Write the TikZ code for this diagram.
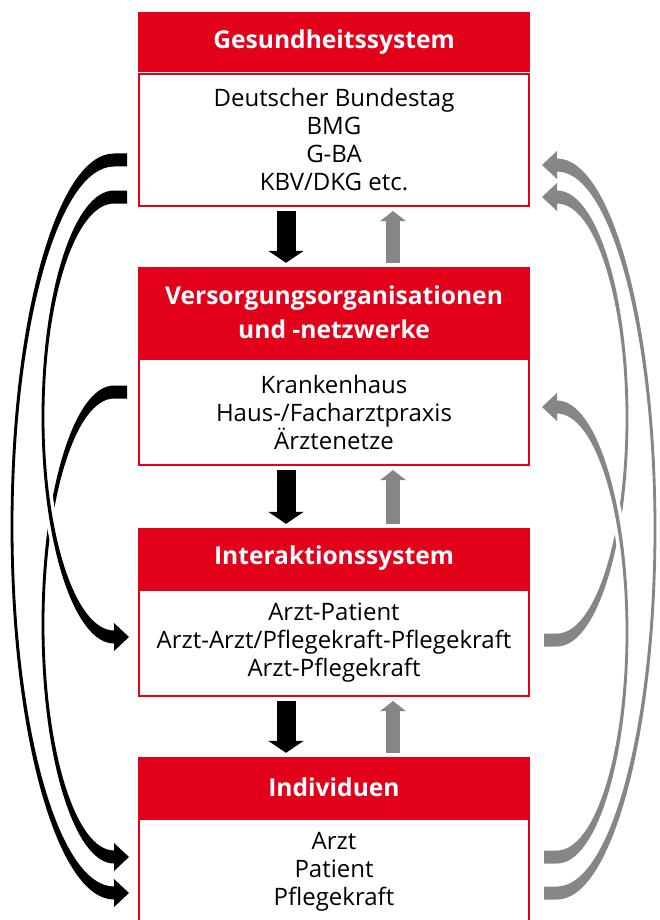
\documentclass[tikz,border=0pt]{standalone}
\usepackage{fontspec}
\setmainfont{Open Sans}
\usepackage{tikz}
\usetikzlibrary{arrows.meta}

\definecolor{boxred}{RGB}{226,0,26}
\definecolor{flowgray}{RGB}{134,134,134}

% bent arrow, thick at both ends, thin in the middle
% #1 turn, #2 paint, #3 tail, #4 half height, #5 bulge
\newcommand{\bendarrow}[5]{%
  \begin{scope}[shift={(#3)},#1]
    \path[#2] (0,-6.5) -- (-13,-6.5)
      arc[start angle=90,end angle=270,x radius={(#5+1.4)*1pt},y radius={(#4+6.5)*1pt}]
      -- (-13,{2*#4+14}) -- (2,{2*#4}) -- (-13,{2*#4-14}) -- (-13,{2*#4-6.5})
      arc[start angle=270,end angle=90,x radius={(#5-1.4)*1pt},y radius={(#4-6.5)*1pt}]
      -- (0,6.5) -- cycle;
  \end{scope}}

\begin{document}
\begin{tikzpicture}[x=1pt,y=-1pt,
    layerhead/.style={fill=boxred,text=white,font=\fontsize{24.6}{34}\selectfont\bfseries,
      minimum width=392pt,align=center,inner sep=0pt},
    layerbody/.style={draw=boxred,line width=2pt,fill=white,minimum width=390pt,
      font=\fontsize{24}{28}\selectfont,align=center,inner sep=0pt},
    pushdown/.style={line width=19pt,-{Triangle[width=35pt,length=12pt]}},
    feedup/.style={flowgray,line width=14pt,-{Triangle[width=25pt,length=10pt]}}]
    \useasboundingbox (0,0) rectangle (659,920);
    %% the four layers
    \node[layerhead,minimum height=60pt] (h1) at (334,42) {Gesundheitssystem};
    \node[layerbody,minimum height=132pt] (b1) at (334,140)
      {Deutscher Bundestag\\BMG\\G-BA\\KBV/DKG etc.};
    \node[layerhead,minimum height=91pt] (h2) at (334,312.5)
      {Versorgungsorganisationen\\und -netzwerke};
    \node[layerbody,minimum height=106pt] (b2) at (334,412)
      {Krankenhaus\\Haus-/Facharztpraxis\\Ärztenetze};
    \node[layerhead,minimum height=61pt] (h3) at (334,558.5) {Interaktionssystem};
    \node[layerbody,minimum height=106pt] (b3) at (334,643)
      {Arzt-Patient\\Arzt-Arzt/Pflegekraft-Pflegekraft\\Arzt-Pflegekraft};
    \node[layerhead,minimum height=61pt] (h4) at (334,787.5) {Individuen};
    \node[layerbody,minimum height=106pt] (b4) at (334,872)
      {Arzt\\Patient\\Pflegekraft};
    %% straight arrows between neighbours
    \draw[pushdown] ([xshift=-48pt,yshift=-4pt]b1.south) -- ([xshift=-48pt,yshift=4pt]h2.north);
    \draw[pushdown] ([xshift=-48pt,yshift=-4pt]b2.south) -- ([xshift=-48pt,yshift=4pt]h3.north);
    \draw[pushdown] ([xshift=-48pt,yshift=-4pt]b3.south) -- ([xshift=-48pt,yshift=4pt]h4.north);
    \draw[feedup] ([xshift=59pt,yshift=4pt]h2.north) -- ([xshift=59pt,yshift=-4pt]b1.south);
    \draw[feedup] ([xshift=59pt,yshift=4pt]h3.north) -- ([xshift=59pt,yshift=-4pt]b2.south);
    \draw[feedup] ([xshift=59pt,yshift=4pt]h4.north) -- ([xshift=59pt,yshift=-4pt]b3.south);
    %% bent arrows, left down, right up
    \coordinate (l1) at (127,160);
    \coordinate (l2) at (127,197);
    \coordinate (l3) at (127,392);
    \coordinate (r1) at (544,893);
    \coordinate (r2) at (544,857);
    \coordinate (r3) at (544,640);
    \bendarrow{}{fill=black}{l1}{366.5}{102}
    \bendarrow{}{fill=black}{l3}{232.5}{71}
    \bendarrow{}{fill=black,preaction={draw=white,line width=7pt}}{l2}{220}{71}
    \bendarrow{rotate=180}{fill=flowgray}{r1}{364}{98}
    \bendarrow{rotate=180}{fill=flowgray}{r3}{221.5}{70}
    \bendarrow{rotate=180}{fill=flowgray,preaction={draw=white,line width=7pt}}{r2}{225}{70}
\end{tikzpicture}
\end{document}
